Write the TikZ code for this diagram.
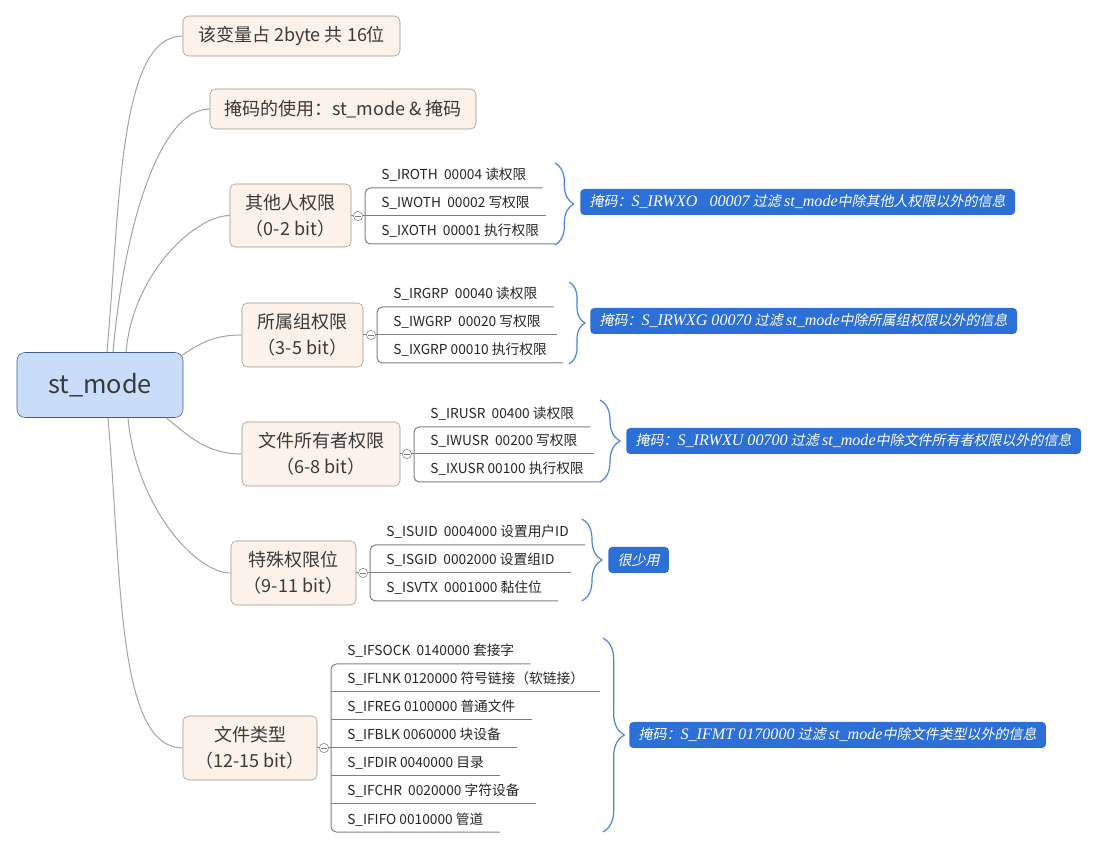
\documentclass[tikz,border=0pt]{standalone}
\usepackage{fontspec}
\setmainfont{Noto Sans CJK SC}
\newfontfamily\slantfont{Noto Sans CJK SC}[FakeSlant=0.2]
\newfontfamily\serifit{Liberation Serif}[Scale=1.15]
\newcommand\lat[1]{{\serifit\itshape #1}}
\usetikzlibrary{calc,decorations.pathreplacing}

\definecolor{rootfill}{HTML}{C9DCF9}
\definecolor{rootline}{HTML}{3F5E8E}
\definecolor{topicfill}{HTML}{FDF2E9}
\definecolor{topicline}{HTML}{9E9087}
\definecolor{branchgray}{HTML}{A3A3A3}
\definecolor{stemgray}{HTML}{7F7F7F}
\definecolor{maskblue}{HTML}{2C70D7}
\definecolor{braceblue}{HTML}{4B83DB}
\definecolor{inktext}{HTML}{3A3A3A}

\begin{document}
\begin{tikzpicture}[x=0.75pt,y=0.75pt,
    root/.style={draw=rootline,fill=rootfill,rounded corners=6pt,inner sep=0pt,
      minimum width=124.5pt,minimum height=48.75pt,text=inktext,font=\fontsize{19}{22}\selectfont},
    topic/.style={draw=topicline,fill=topicfill,rounded corners=4pt,inner sep=0pt,
      align=center,text=inktext,font=\fontsize{13.5}{19.5}\selectfont},
    item/.style={anchor=south west,inner xsep=12pt,inner ysep=5.8pt,text depth=0pt,
      text=black!85,font=\fontsize{10.3}{12}\selectfont},
    fold/.style={circle,draw=stemgray,fill=white,inner sep=0pt,minimum size=7pt,
      path picture={\draw[stemgray,line width=0.5pt]
        ([xshift=1.5pt]path picture bounding box.west) -- ([xshift=-1.5pt]path picture bounding box.east);}},
    branch/.style={draw=branchgray,line width=0.75pt},
    stem/.style={draw=stemgray,line width=0.75pt},
    curly/.style={draw=braceblue,line width=0.9pt,decorate,decoration={brace,amplitude=#1}},
    curly/.default=14pt,
    mask/.style={fill=maskblue,text=white,rounded corners=3pt,anchor=west,inner xsep=7pt,
      inner ysep=0pt,minimum height=19.5pt,font=\slantfont\fontsize{10.5}{12}\selectfont}]
  \useasboundingbox (0,0) rectangle (1095,849);

  % centre et branches principales
  \node[root] (root) at (100,464) {st\_mode};
  \node[topic,minimum width=162.75pt,minimum height=30pt] (t1) at (291.5,813) {该变量占 2byte 共 16位};
  \node[topic,minimum width=199.5pt,minimum height=30pt] (t2) at (343,740) {掩码的使用：st\_mode \& 掩码};
  \node[topic,minimum width=90.75pt,minimum height=47.25pt] (t3) at (290.5,633.5) {其他人权限\\（0-2 bit）};
  \node[topic,minimum width=90.75pt,minimum height=48pt] (t4) at (302.5,514) {所属组权限\\（3-5 bit）};
  \node[topic,minimum width=118.5pt,minimum height=48pt] (t5) at (321,395) {文件所有者权限\\（6-8 bit）};
  \node[topic,minimum width=93.75pt,minimum height=48pt] (t6) at (293.5,276) {特殊权限位\\（9-11 bit）};
  \node[topic,minimum width=100.5pt,minimum height=48pt] (t7) at (250,101) {文件类型\\（12-15 bit）};

  \draw[branch] ($(root.north)+(7,0)$) to[out=85,in=180,out looseness=1.2,in looseness=0.5] (t1.west);
  \draw[branch] ($(root.north)+(13,0)$) to[out=85,in=180,out looseness=1.2,in looseness=0.5] (t2.west);
  \draw[branch] ($(root.north)+(26,0)$) to[out=85,in=180,out looseness=1.2,in looseness=0.5] (t3.west);
  \draw[branch] ($(root.north east)+(-1,-3)$) to[out=35,in=180] (t4.west);
  \draw[branch] ($(root.south east)+(-17,0)$) to[out=-40,in=180] (t5.west);
  \draw[branch] ($(root.south)+(28,0)$) to[out=-85,in=180,out looseness=1.2,in looseness=0.5] (t6.west);
  \draw[branch] ($(root.south)+(8,0)$) to[out=-85,in=180,out looseness=1.2,in looseness=0.5] (t7.west);

  % 其他人权限
  \node[item] (i3a) at (365,661) {S\_IROTH\ \ 00004 读权限};
  \node[item] (i3b) at (365,633) {S\_IWOTH\ \ 00002 写权限};
  \node[item] (i3c) at (365,605) {S\_IXOTH\ \ 00001 执行权限};
  \node[fold] (c3) at (358,633) {};
  \draw[stem] (t3.east) -- (c3);
  \draw[stem] (c3) -- (i3b.south west);
  \draw[stem,rounded corners=4pt] (i3a.south east) -- (i3a.south west) -- (i3c.south west) -- (i3c.south east);
  \draw[stem] (i3b.south west) -- (i3b.south east);
  \draw[curly] (555,686) -- (555,604);
  \node[mask] (m3) at (580,647) {掩码：\lat{S\_IRWXO\ \ \ 00007} 过滤 \lat{st\_mode}中除其他人权限以外的信息};

  % 所属组权限
  \node[item] (i4a) at (377,542) {S\_IRGRP\ \ 00040 读权限};
  \node[item] (i4b) at (377,514) {S\_IWGRP\ \ 00020 写权限};
  \node[item] (i4c) at (377,486) {S\_IXGRP 00010 执行权限};
  \node[fold] (c4) at (371,514) {};
  \draw[stem] (t4.east) -- (c4);
  \draw[stem] (c4) -- (i4b.south west);
  \draw[stem,rounded corners=4pt] (i4a.south east) -- (i4a.south west) -- (i4c.south west) -- (i4c.south east);
  \draw[stem] (i4b.south west) -- (i4b.south east);
  \draw[curly=12pt] (569,567) -- (569,485);
  \node[mask] (m4) at (590,528) {掩码：\lat{S\_IRWXG 00070} 过滤 \lat{st\_mode}中除所属组权限以外的信息};

  % 文件所有者权限
  \node[item] (i5a) at (414,422) {S\_IRUSR\ \ 00400 读权限};
  \node[item] (i5b) at (414,395) {S\_IWUSR\ \ 00200 写权限};
  \node[item] (i5c) at (414,367) {S\_IXUSR 00100 执行权限};
  \node[fold] (c5) at (407,395) {};
  \draw[stem] (t5.east) -- (c5);
  \draw[stem] (c5) -- (i5b.south west);
  \draw[stem,rounded corners=4pt] (i5a.south east) -- (i5a.south west) -- (i5c.south west) -- (i5c.south east);
  \draw[stem] (i5b.south west) -- (i5b.south east);
  \draw[curly=15pt] (600,449) -- (600,367);
  \node[mask] (m5) at (626,408) {掩码：\lat{S\_IRWXU 00700} 过滤 \lat{st\_mode}中除文件所有者权限以外的信息};

  % 特殊权限位
  \node[item] (i6a) at (370,304) {S\_ISUID\ \ 0004000 设置用户ID};
  \node[item] (i6b) at (370,276) {S\_ISGID\ \ 0002000 设置组ID};
  \node[item] (i6c) at (370,248) {S\_ISVTX\ \ 0001000 黏住位};
  \node[fold] (c6) at (363,276) {};
  \draw[stem] (t6.east) -- (c6);
  \draw[stem] (c6) -- (i6b.south west);
  \draw[stem,rounded corners=4pt] (i6a.south east) -- (i6a.south west) -- (i6c.south west) -- (i6c.south east);
  \draw[stem] (i6b.south west) -- (i6b.south east);
  \draw[curly=15pt] (582,330) -- (582,248);
  \node[mask] (m6) at (608,289) {很少用};

  % 文件类型
  \node[item] (i7a) at (331,185) {S\_IFSOCK\ \ 0140000 套接字};
  \node[item] (i7b) at (331,157) {S\_IFLNK 0120000 符号链接（软链接）};
  \node[item] (i7c) at (331,129) {S\_IFREG 0100000 普通文件};
  \node[item] (i7d) at (331,101) {S\_IFBLK 0060000 块设备};
  \node[item] (i7e) at (331,73) {S\_IFDIR 0040000 目录};
  \node[item] (i7f) at (331,45) {S\_IFCHR\ \ 0020000 字符设备};
  \node[item] (i7g) at (331,17) {S\_IFIFO 0010000 管道};
  \node[fold] (c7) at (324,101) {};
  \draw[stem] (t7.east) -- (c7);
  \draw[stem] (c7) -- (i7d.south west);
  \draw[stem,rounded corners=4pt] (i7a.south east) -- (i7a.south west) -- (i7g.south west) -- (i7g.south east);
  \foreach \n in {b,c,d,e,f}
    \draw[stem] (i7\n.south west) -- (i7\n.south east);
  \draw[curly=16pt] (603,211) -- (603,17);
  \node[mask] (m7) at (629,114) {掩码：\lat{S\_IFMT 0170000} 过滤 \lat{st\_mode}中除文件类型以外的信息};
\end{tikzpicture}
\end{document}
